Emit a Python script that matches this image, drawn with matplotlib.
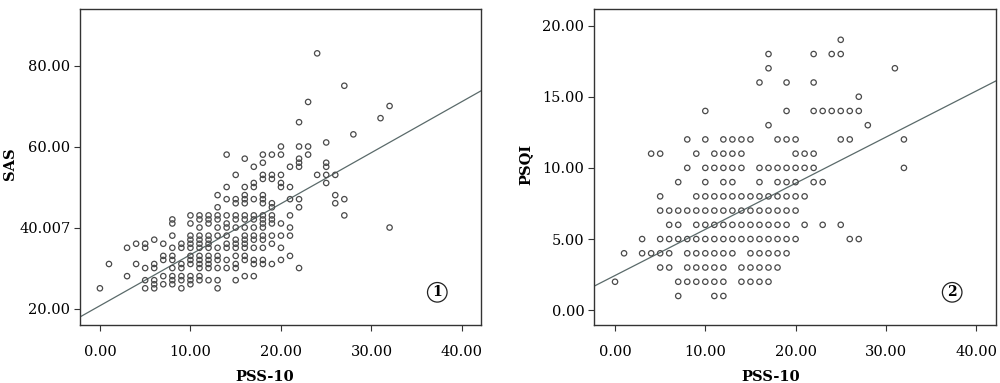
import numpy as np
import matplotlib
matplotlib.use("Agg")
import matplotlib.pyplot as plt

plt.rcParams['font.family'] = ['DejaVu Serif']

# PSS-10 score -> SAS scores observed at that PSS-10 value
sas_cols = {
    0: [25], 1: [31], 3: [35, 28], 4: [36, 31],
    5: [36, 35, 30, 27, 25],
    6: [37, 31, 30, 27, 26, 25],
    7: [36, 33, 32, 28, 26],
    8: [42, 41, 38, 35, 33, 32, 30, 28, 27, 26],
    9: [36, 35, 31, 30, 28, 27, 25],
    10: [43, 41, 38, 37, 36, 35, 33, 32, 31, 28, 27, 26],
    11: [43, 42, 40, 38, 37, 36, 35, 33, 32, 31, 30, 28, 27],
    12: [43, 42, 41, 38, 37, 36, 35, 33, 32, 31, 30, 27],
    13: [48, 45, 43, 42, 40, 38, 35, 33, 32, 30, 27, 25],
    14: [58, 50, 47, 43, 41, 40, 38, 36, 35, 32, 30],
    15: [53, 47, 46, 43, 42, 40, 37, 36, 35, 33, 31, 30, 27],
    16: [57, 50, 48, 47, 46, 43, 42, 40, 38, 37, 36, 35, 33, 32, 28],
    17: [55, 51, 50, 47, 43, 42, 40, 38, 37, 35, 32, 31, 28],
    18: [58, 56, 53, 52, 48, 47, 46, 43, 42, 41, 40, 38, 37, 35, 32, 31],
    19: [58, 53, 52, 46, 45, 43, 42, 41, 38, 36, 31],
    20: [60, 58, 53, 51, 50, 41, 38, 35, 32],
    21: [55, 50, 47, 43, 40, 38, 33],
    22: [66, 60, 57, 56, 55, 47, 45, 30],
    23: [71, 60, 58],
    24: [83, 53],
    25: [61, 56, 55, 53, 51],
    26: [53, 48, 46],
    27: [75, 47, 43],
    28: [63],
    31: [67],
    32: [70, 40],
}

# PSS-10 score -> PSQI scores observed at that PSS-10 value
psqi_cols = {
    0: [2], 1: [4], 3: [5, 4], 4: [11, 4],
    5: [11, 8, 7, 5, 4, 3],
    6: [7, 6, 5, 4, 3],
    7: [9, 7, 6, 5, 2, 1],
    8: [12, 10, 7, 5, 4, 3, 2],
    9: [11, 8, 7, 6, 5, 4, 3, 2],
    10: [14, 12, 10, 9, 8, 7, 6, 5, 4, 3, 2],
    11: [11, 10, 8, 7, 6, 5, 4, 3, 2, 1],
    12: [12, 11, 10, 9, 8, 7, 6, 5, 4, 3, 2, 1],
    13: [12, 11, 10, 9, 8, 7, 6, 5, 4],
    14: [12, 11, 10, 8, 7, 6, 5, 3, 2],
    15: [12, 8, 7, 6, 5, 4, 3, 2],
    16: [16, 10, 9, 8, 7, 6, 5, 4, 3, 2],
    17: [18, 17, 13, 10, 8, 7, 6, 5, 4, 3, 2],
    18: [12, 10, 9, 8, 7, 6, 5, 4, 3],
    19: [16, 14, 12, 10, 9, 8, 7, 6, 5, 4],
    20: [12, 11, 10, 9, 8, 7, 5],
    21: [11, 10, 8, 6],
    22: [18, 16, 14, 11, 10, 9],
    23: [14, 9, 6],
    24: [18, 14],
    25: [19, 18, 14, 12, 6],
    26: [14, 12, 5],
    27: [15, 14, 5],
    28: [13],
    31: [17],
    32: [12, 10],
}

# fitted regression lines (intercept, slope)
sas_fit = (20.7, 1.26)
psqi_fit = (2.44, 0.324)

x_ticks = [0, 10, 20, 30, 40]
x_ticklabels = ["0.00", "10.00", "20.00", "30.00", "40.00"]
sas_ticks = [20, 40, 60, 80]
sas_ticklabels = ["20.00", "40.007", "60.00", "80.00"]
psqi_ticks = [0, 5, 10, 15, 20]
psqi_ticklabels = ["0.00", "5.00", "10.00", "15.00", "20.00"]


def flatten(cols):
    xs, ys = [], []
    for k, vals in cols.items():
        xs += [k] * len(vals)
        ys += vals
    return np.array(xs), np.array(ys)


fig = plt.figure(figsize=(10, 3.83), dpi=100)
ax1 = fig.add_axes([0.080, 0.151, 0.401, 0.825])
ax2 = fig.add_axes([0.594, 0.151, 0.402, 0.825])

panels = [
    (ax1, sas_cols, sas_fit, "SAS", sas_ticks, sas_ticklabels, (-2.2, 42.1), (15.9, 93.9), "1"),
    (ax2, psqi_cols, psqi_fit, "PSQI", psqi_ticks, psqi_ticklabels, (-2.33, 42.2), (-1.05, 21.15), "2"),
]

for ax, cols, fit, ylab, yt, ytl, xlim, ylim, tag in panels:
    xs, ys = flatten(cols)
    ax.scatter(xs, ys, s=15, facecolors='none', edgecolors='#4a4a4a', linewidths=0.9, zorder=3)
    lx = np.array(xlim)
    ax.plot(lx, fit[0] + fit[1] * lx, color='#5a6a6a', lw=0.9, zorder=2)
    ax.set_xlim(xlim)
    ax.set_ylim(ylim)
    ax.set_xticks(x_ticks)
    ax.set_xticklabels(x_ticklabels)
    ax.set_yticks(yt)
    ax.set_yticklabels(ytl)
    ax.tick_params(axis='x', length=4, pad=10, labelsize=10.5, color='#333333')
    ax.tick_params(axis='y', length=4, pad=3, labelsize=10.5, color='#333333')
    for sp in ax.spines.values():
        sp.set_color('#333333')
        sp.set_linewidth(1.0)
    ax.set_xlabel("PSS-10", fontsize=10.5, fontweight='bold', labelpad=8)
    ax.set_ylabel(ylab, fontsize=10.5, fontweight='bold')
    ax.text(0.891, 0.104, tag, transform=ax.transAxes, ha='center', va='center',
            fontsize=10, fontweight='bold',
            bbox=dict(boxstyle='circle,pad=0.2', fc='white', ec='#222222', lw=0.9))

ax1.xaxis.label.set_x(0.461)
ax2.xaxis.label.set_x(0.44)
ax1.yaxis.set_label_coords(-0.158, 0.51)
ax2.yaxis.set_label_coords(-0.152, 0.51)

fig.savefig("out.png", dpi=100)
